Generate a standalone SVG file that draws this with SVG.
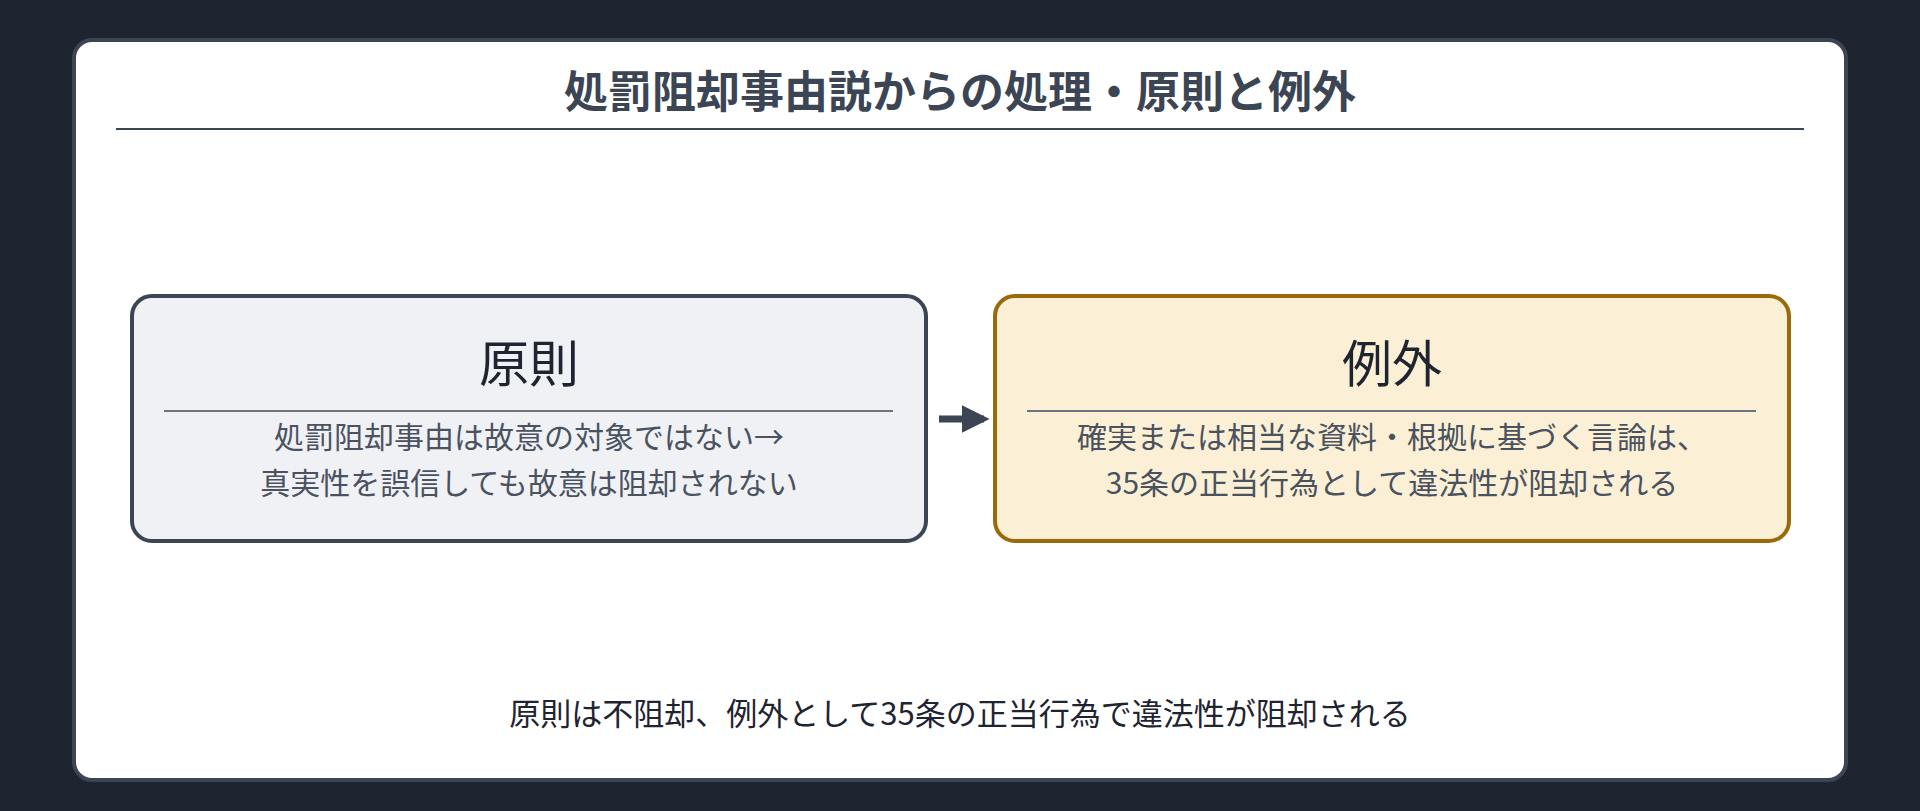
<svg xmlns="http://www.w3.org/2000/svg" width="1920" height="811" viewBox="0 0 1920 811">
<style>
text{font-family:"Noto Sans CJK JP","Noto Sans",sans-serif;text-anchor:middle}
.t{font-size:44px;font-weight:bold;fill:#3b4553}
.h{font-size:50px;fill:#1e2430}
.b{font-size:30px;fill:#4a5260}
.f{font-size:31px;fill:#1e2430}
</style>
<defs><marker id="ah" viewBox="0 0 10 10" refX="8" refY="5" markerWidth="4" markerHeight="4" orient="auto"><path d="M0,0L10,5L0,10z" fill="#3b4553"/></marker></defs>
<rect width="1920" height="811" fill="#1e2430"/>
<rect x="74" y="40" width="1772" height="740" rx="18" fill="#fff" stroke="#3b4553" stroke-width="4"/>
<g id="title"><text class="t" x="960" y="108">処罰阻却事由説からの処理・原則と例外</text>
<line x1="116" y1="129" x2="1804" y2="129" stroke="#3b4553" stroke-width="2"/></g>
<g id="gensoku">
<rect x="132" y="296" width="794" height="245" rx="20" fill="#eff1f5" stroke="#3b4553" stroke-width="4"/>
<text class="h" x="529" y="382">原則</text>
<line x1="164" y1="411" x2="893" y2="411" stroke="#6b7380" stroke-width="2"/>
<text class="b" x="529" y="448">処罰阻却事由は故意の対象ではない→</text>
<text class="b" x="529" y="494">真実性を誤信しても故意は阻却されない</text>
</g>
<g id="reigai">
<rect x="995" y="296" width="794" height="245" rx="20" fill="#fbf0d6" stroke="#9a6a0a" stroke-width="4"/>
<text class="h" x="1392" y="382">例外</text>
<line x1="1027" y1="411" x2="1756" y2="411" stroke="#6b7380" stroke-width="2"/>
<text class="b" x="1392" y="448">確実または相当な資料・根拠に基づく言論は、</text>
<text class="b" x="1392" y="494">35条の正当行為として違法性が阻却される</text>
</g>
<g id="connectors"><line x1="939" y1="419" x2="984" y2="419" stroke="#3b4553" stroke-width="7" marker-end="url(#ah)"/></g>
<g id="footer"><text class="f" x="960" y="725">原則は不阻却、例外として35条の正当行為で違法性が阻却される</text></g>
</svg>
